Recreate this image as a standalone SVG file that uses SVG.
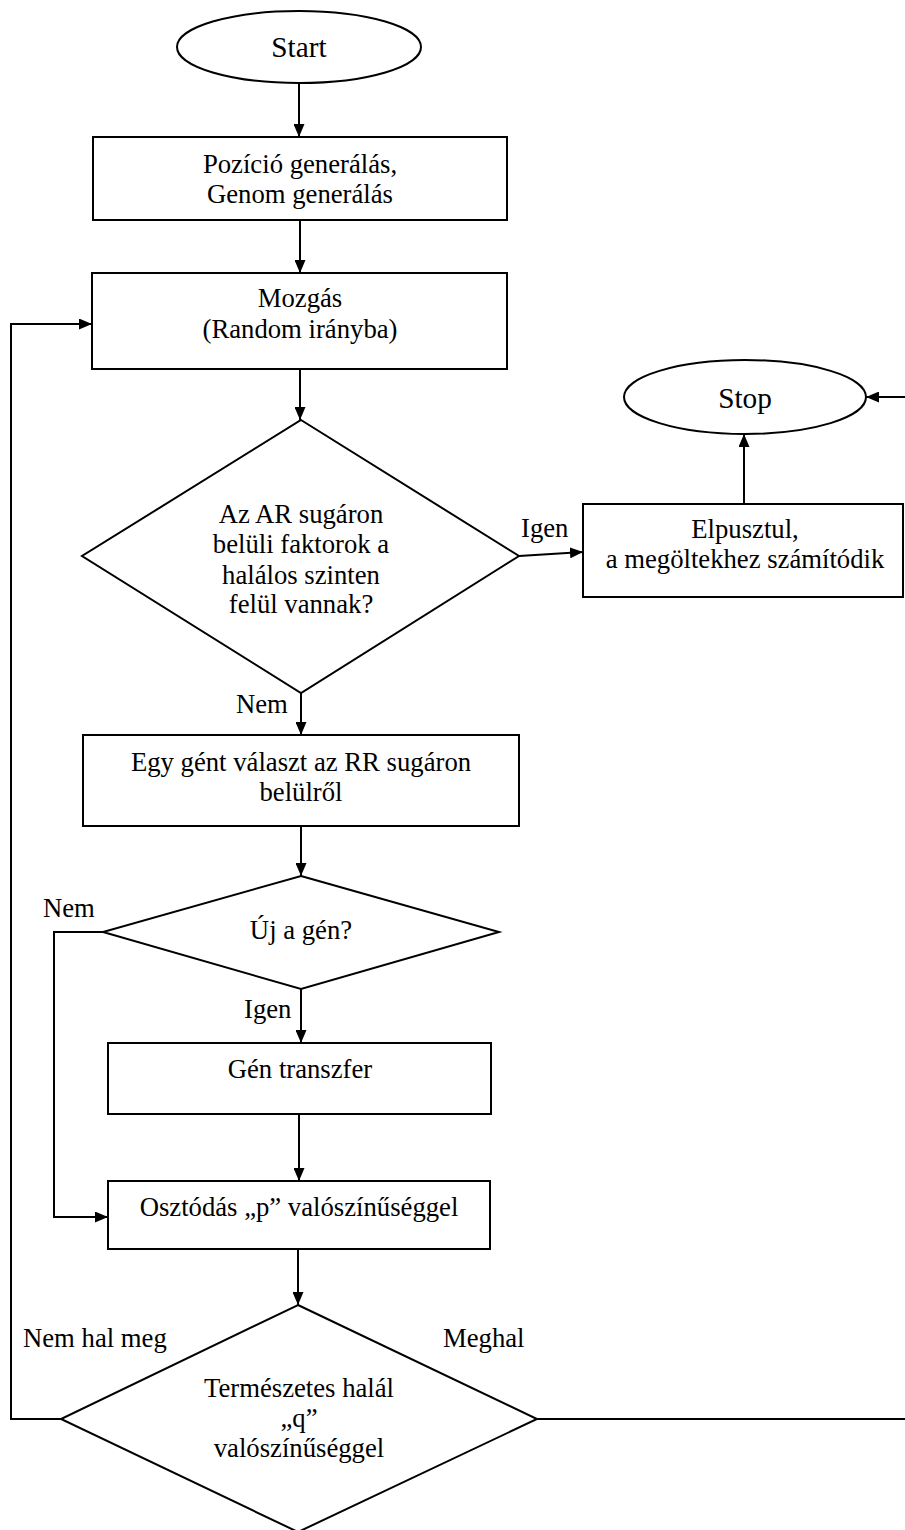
<svg xmlns="http://www.w3.org/2000/svg" width="905" height="1530" viewBox="0 0 905 1530">
  <defs>
    <marker id="arrow" markerUnits="userSpaceOnUse" markerWidth="13" markerHeight="11" refX="13" refY="5.5" orient="auto">
      <path d="M0,0 L13,5.5 L0,11 z" fill="#000000"/>
    </marker>
  </defs>
  <style>
    .shape { fill: #ffffff; stroke: #000000; stroke-width: 2; }
    .wire { fill: none; stroke: #000000; stroke-width: 2; }
    text { font-family: 'Liberation Serif', 'Times New Roman', serif; font-size: 26.7px; fill: #000000; }
    .c { text-anchor: middle; }
    .term { font-size: 29.3px; }
  </style>

  <rect width="905" height="1530" fill="#ffffff"/>

  <!-- connectors and their labels -->
  <g id="connectors">
    <path class="wire" d="M299,83 V137" marker-end="url(#arrow)"/>
    <path class="wire" d="M300,220 V273" marker-end="url(#arrow)"/>
    <path class="wire" d="M300,369 V420" marker-end="url(#arrow)"/>
    <path class="wire" d="M519,556 L583,552" marker-end="url(#arrow)"/>
    <path class="wire" d="M744,504 V434" marker-end="url(#arrow)"/>
    <path class="wire" d="M301,693 V735" marker-end="url(#arrow)"/>
    <path class="wire" d="M301,826 V876" marker-end="url(#arrow)"/>
    <path class="wire" d="M301,989 V1043" marker-end="url(#arrow)"/>
    <path class="wire" d="M103,932 H54 V1217 H108" marker-end="url(#arrow)"/>
    <path class="wire" d="M299,1114 V1181" marker-end="url(#arrow)"/>
    <path class="wire" d="M298,1249 V1305" marker-end="url(#arrow)"/>
    <path class="wire" d="M61,1419 H11 V324 H92" marker-end="url(#arrow)"/>
    <path class="wire" d="M537,1419 H912 V397 H866" marker-end="url(#arrow)"/>
    <text x="521" y="537">Igen</text>
    <text x="236" y="713">Nem</text>
    <text x="43" y="917">Nem</text>
    <text x="244" y="1018">Igen</text>
    <text x="23" y="1347">Nem hal meg</text>
    <text x="443" y="1347">Meghal</text>
  </g>

  <!-- terminals -->
  <g id="start">
    <ellipse class="shape" cx="299" cy="47" rx="122" ry="36"/>
    <text class="c term" x="299" y="57">Start</text>
  </g>
  <g id="stop">
    <ellipse class="shape" cx="745" cy="397" rx="121" ry="37"/>
    <text class="c term" x="745" y="408">Stop</text>
  </g>

  <!-- process boxes -->
  <g id="init">
    <rect class="shape" x="93" y="137" width="414" height="83"/>
    <text class="c" x="300" y="173">Pozíció generálás,</text>
    <text class="c" x="300" y="203">Genom generálás</text>
  </g>
  <g id="move">
    <rect class="shape" x="92" y="273" width="415" height="96"/>
    <text class="c" x="300" y="307">Mozgás</text>
    <text class="c" x="300" y="338">(Random irányba)</text>
  </g>
  <g id="die">
    <rect class="shape" x="583" y="504" width="320" height="93"/>
    <text class="c" x="745" y="538">Elpusztul,</text>
    <text class="c" x="745" y="568">a megöltekhez számítódik</text>
  </g>
  <g id="pick">
    <rect class="shape" x="83" y="735" width="436" height="91"/>
    <text class="c" x="301" y="771">Egy gént választ az RR sugáron</text>
    <text class="c" x="301" y="801">belülről</text>
  </g>
  <g id="transfer">
    <rect class="shape" x="108" y="1043" width="383" height="71"/>
    <text class="c" x="300" y="1078">Gén transzfer</text>
  </g>
  <g id="divide">
    <rect class="shape" x="108" y="1181" width="382" height="68"/>
    <text class="c" x="299" y="1216">Osztódás „p” valószínűséggel</text>
  </g>

  <!-- decisions -->
  <g id="check-ar">
    <polygon class="shape" points="301,420 519,556 301,693 82,556"/>
    <text class="c" x="301" y="523">Az AR sugáron</text>
    <text class="c" x="301" y="553">belüli faktorok a</text>
    <text class="c" x="301" y="584">halálos szinten</text>
    <text class="c" x="301" y="613">felül vannak?</text>
  </g>
  <g id="new-gene">
    <polygon class="shape" points="301,876 499,932 301,989 103,932"/>
    <text class="c" x="301" y="939">Új a gén?</text>
  </g>
  <g id="natural-death">
    <polygon class="shape" points="298,1305 537,1419 298,1532 61,1419"/>
    <text class="c" x="299" y="1397">Természetes halál</text>
    <text class="c" x="299" y="1427">„q”</text>
    <text class="c" x="299" y="1457">valószínűséggel</text>
  </g>
</svg>
